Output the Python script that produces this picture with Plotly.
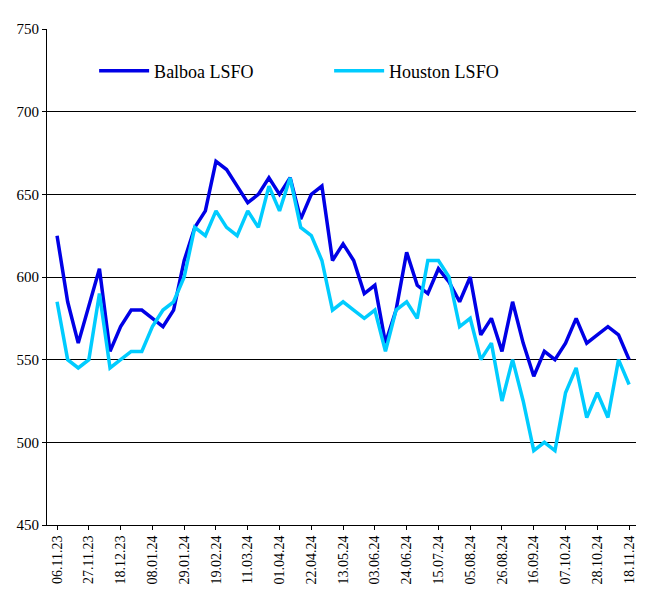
import pandas as pd
import plotly.graph_objects as go

dates = pd.date_range("2023-11-06", "2024-11-18", freq="7D").strftime("%d.%m.%y").tolist()

balboa = [625, 585, 560, 583, 605, 555, 570, 580, 580, 575, 570, 580, 610, 630, 640,
          670, 665, 655, 645, 650, 660, 650, 660, 635, 650, 655, 610, 620, 610, 590,
          595, 560, 580, 615, 595, 590, 605, 597, 585, 600, 565, 575, 555, 585, 560,
          540, 555, 550, 560, 575, 560, 565, 570, 565, 550]
houston = [585, 550, 545, 550, 590, 545, 550, 555, 555, 570, 580, 585, 600, 630, 625,
           640, 630, 625, 640, 630, 655, 640, 660, 630, 625, 610, 580, 585, 580, 575,
           580, 555, 580, 585, 575, 610, 610, 600, 570, 575, 550, 560, 525, 550, 525,
           495, 500, 495, 530, 545, 515, 530, 515, 550, 535]

idx = list(range(len(dates)))

fig = go.Figure()
fig.add_trace(go.Scatter(x=idx, y=balboa, mode="lines", name="Balboa LSFO",
                         line=dict(color="#0000e6", width=3.5)))
fig.add_trace(go.Scatter(x=idx, y=houston, mode="lines", name="Houston LSFO",
                         line=dict(color="#00ccff", width=3.5)))

fig.update_layout(
    width=647, height=592,
    margin=dict(l=39, r=19, t=21, b=75),
    plot_bgcolor="white", paper_bgcolor="white",
    font=dict(family="Liberation Serif", size=15, color="black"),
    legend=dict(orientation="h", x=0.08, y=0.915, xanchor="left", yanchor="middle",
                bgcolor="rgba(0,0,0,0)", font=dict(size=18), itemwidth=50,
                entrywidth=170),
    xaxis=dict(range=[-0.95, 54.65], tickvals=idx[::3], ticktext=dates[::3],
               tickangle=-90, showgrid=False, showline=True, linecolor="black",
               ticks="outside", ticklen=4, tickcolor="black", zeroline=False,
               tickfont=dict(size=14), automargin=False),
    yaxis=dict(range=[450, 750], dtick=50, showgrid=True, gridcolor="black", gridwidth=1,
               showline=True, linecolor="black", ticks="outside", ticklen=4,
               tickcolor="black", zeroline=False, automargin=False),
)

fig.write_html("out.html")
